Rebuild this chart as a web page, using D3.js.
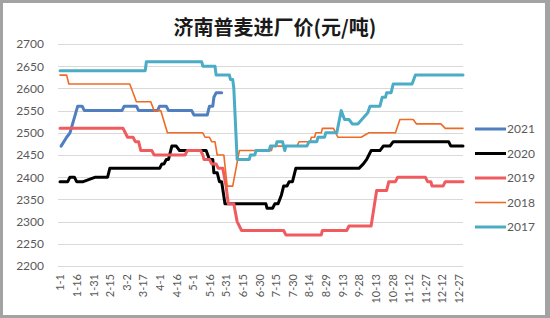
<!DOCTYPE html>
<html>
<head>
<meta charset="utf-8">
<script src="https://cdn.jsdelivr.net/npm/d3@7"></script>
<style>
  body { margin: 0; background: #fff; }
  text { font-family: Lato, "Open Sans", "Noto Sans", sans-serif; }
</style>
</head>
<body>
<svg id="chart" width="550" height="318"></svg>
<script>
// ---------- DATA ----------
const chartTitle = "济南普麦进厂价(元/吨)";
const years = ["2021", "2020", "2019", "2018", "2017"];
const yearColors = ["#4F7FBE", "#000000", "#EF5B5E", "#F06A25", "#4AACC5"];
const yearWidths = [3, 3, 3, 1.6, 3];

const xTickLabels = ["1-1", "1-16", "1-31", "2-15", "3-2", "3-17", "4-1", "4-16", "5-1", "5-16",
  "5-31", "6-15", "6-30", "7-15", "7-30", "8-14", "8-29", "9-13", "9-28", "10-13",
  "10-28", "11-12", "11-27", "12-12", "12-27"];
const yTicks = [2200, 2250, 2300, 2350, 2400, 2450, 2500, 2550, 2600, 2650, 2700];

// breakpoints [month-day, price]
const s2021 = [["1-2",2470],["1-7",2490],["1-10",2500],["1-17",2560],["1-21",2560],["1-23",2550],
  ["2-26",2550],["2-28",2560],["3-11",2560],["3-13",2550],["3-30",2550],["4-1",2560],["4-7",2560],
  ["4-9",2550],["4-30",2550],["5-2",2540],["5-14",2540],["5-16",2560],["5-19",2560],["5-20",2580],
  ["5-22",2590],["5-27",2590]];

const s2020 = [["1-1",2390],["1-8",2390],["1-10",2400],["1-14",2400],["1-16",2390],["1-22",2390],
  ["2-2",2400],["2-13",2400],["2-15",2420],["4-1",2420],["4-3",2430],["4-5",2430],["4-7",2440],
  ["4-9",2440],["4-12",2470],["4-16",2470],["4-19",2460],["5-13",2460],["5-16",2440],["5-19",2440],
  ["5-20",2410],["5-23",2410],["5-25",2390],["5-27",2390],["5-30",2340],["7-6",2340],["7-7",2330],
  ["7-12",2330],["7-14",2340],["7-17",2340],["7-20",2360],["7-22",2380],["7-25",2380],["7-27",2390],
  ["7-30",2390],["8-2",2420],["9-28",2420],["10-2",2430],["10-5",2440],["10-7",2450],["10-9",2460],
  ["10-17",2460],["10-20",2470],["10-26",2470],["10-29",2480],["12-18",2480],["12-20",2470],["12-31",2470]];

const s2019 = [["1-1",2510],["2-27",2510],["3-3",2490],["3-8",2490],["3-10",2480],["3-13",2480],
  ["3-15",2460],["3-25",2460],["3-27",2450],["4-24",2450],["4-26",2460],["5-8",2460],["5-10",2450],
  ["5-11",2440],["5-16",2440],["5-18",2430],["5-22",2430],["5-24",2420],["5-28",2420],["5-31",2380],
  ["6-2",2340],["6-7",2340],["6-10",2300],["6-14",2280],["7-22",2280],["7-24",2270],["8-25",2270],
  ["8-26",2280],["9-17",2280],["9-19",2290],["10-9",2290],["10-14",2370],["10-23",2370],["10-25",2390],
  ["10-31",2390],["11-2",2400],["11-27",2400],["11-29",2390],["12-2",2390],["12-3",2380],["12-13",2380],
  ["12-15",2390],["12-31",2390]];

const s2018 = [["1-1",2630],["1-7",2630],["1-9",2610],["3-5",2610],["3-11",2570],["3-24",2570],
  ["3-27",2550],["4-2",2550],["4-8",2500],["5-10",2500],["5-12",2490],["5-16",2490],["5-18",2480],
  ["5-21",2480],["5-23",2450],["5-29",2450],["6-1",2380],["6-6",2380],["6-12",2460],["7-11",2460],
  ["7-12",2470],["8-3",2470],["8-5",2480],["8-15",2480],["8-16",2490],["8-19",2490],["8-20",2500],
  ["8-25",2500],["8-26",2510],["9-5",2510],["9-9",2490],["9-30",2490],["10-7",2500],["10-31",2500],
  ["11-4",2530],["11-16",2530],["11-19",2520],["12-11",2520],["12-15",2510],["12-31",2510]];

const s2017 = [["1-1",2640],["3-19",2640],["3-20",2660],["5-9",2660],["5-10",2650],["5-21",2650],
  ["5-22",2630],["6-3",2630],["6-4",2620],["6-6",2620],["6-7",2600],["6-10",2440],["6-21",2440],
  ["6-22",2450],["6-26",2450],["6-27",2460],["7-9",2460],["7-10",2470],["7-15",2470],["7-16",2480],
  ["7-21",2480],["7-23",2460],["7-24",2470],["8-12",2470],["8-14",2480],["8-21",2480],["8-22",2490],
  ["8-28",2490],["8-29",2500],["9-8",2500],["9-12",2550],["9-15",2530],["9-19",2530],["9-22",2520],
  ["9-27",2520],["10-6",2545],["10-8",2560],["10-17",2560],["10-19",2580],["10-22",2580],["10-23",2590],
  ["10-27",2590],["10-29",2610],["11-15",2610],["11-18",2630],["12-31",2630]];

const seriesList = [s2021, s2020, s2019, s2018, s2017];

// ---------- HELPERS ----------
const parseMD = d3.timeParse("%Y-%m-%d");
function dayOf(md) {
  // non-leap year so that 2-15 + 15 days = 3-2
  const dt = parseMD("2017-" + md);
  return d3.timeDay.count(d3.timeYear(dt), dt);
}

// ---------- DRAW ----------
const svg = d3.select("#chart");

svg.append("rect").attr("width", 550).attr("height", 318).attr("fill", "#A3A3A3");
svg.append("rect").attr("x", 3).attr("y", 3).attr("width", 542).attr("height", 312).attr("fill", "#fff");

const x = d3.scaleLinear().domain([0, 364]).range([60, 463]);
const y = d3.scaleLinear().domain([2200, 2700]).range([266, 44]);

// gridlines
svg.append("g")
  .selectAll("line")
  .data(yTicks)
  .join("line")
  .attr("x1", 58).attr("x2", 463)
  .attr("y1", d => Math.round(y(d)) + 0.5)
  .attr("y2", d => Math.round(y(d)) + 0.5)
  .attr("stroke", "#D9D9D9")
  .attr("stroke-width", 1);

// y axis labels
const yAxis = d3.axisLeft(y).tickValues(yTicks).tickFormat(d3.format("d")).tickSize(0).tickPadding(0);
svg.append("g")
  .attr("transform", "translate(44,0)")
  .call(yAxis)
  .call(g => g.select(".domain").remove())
  .call(g => g.selectAll("text")
    .attr("fill", "#595959")
    .style("font-size", "12px")
    .style("font-family", "Lato, 'Open Sans', sans-serif"));

// x axis labels (rotated)
const xAxis = d3.axisBottom(x)
  .tickValues(xTickLabels.map(dayOf))
  .tickFormat((d, i) => xTickLabels[i])
  .tickSize(0);
svg.append("g")
  .attr("transform", "translate(0,266)")
  .call(xAxis)
  .call(g => g.select(".domain").remove())
  .call(g => g.selectAll("text")
    .attr("fill", "#595959")
    .style("font-size", "11px")
    .style("font-family", "Lato, 'Open Sans', sans-serif")
    .attr("text-anchor", "end")
    .attr("transform", "rotate(-90)")
    .attr("x", -8)
    .attr("y", 0)
    .attr("dy", "0.35em"));

// lines
const line = d3.line()
  .x(d => x(dayOf(d[0])))
  .y(d => y(d[1]));

svg.append("g")
  .selectAll("path")
  .data(seriesList)
  .join("path")
  .attr("d", line)
  .attr("fill", "none")
  .attr("stroke", (d, i) => yearColors[i])
  .attr("stroke-width", (d, i) => yearWidths[i])
  .attr("stroke-linejoin", "round")
  .attr("stroke-linecap", "round");

// title
svg.append("text")
  .attr("x", 275).attr("y", 35)
  .attr("text-anchor", "middle")
  .style("font-family", "'Noto Sans CJK SC', sans-serif")
  .style("font-size", "20px")
  .style("font-weight", "bold")
  .attr("fill", "#1a1a1a")
  .text(chartTitle);

// legend
const legend = svg.append("g")
  .selectAll("g")
  .data(years)
  .join("g")
  .attr("transform", (d, i) => `translate(475,${129 + i * 24.5})`);
legend.append("line")
  .attr("x1", 0).attr("x2", 31)
  .attr("stroke", (d, i) => yearColors[i])
  .attr("stroke-width", (d, i) => yearWidths[i]);
legend.append("text")
  .attr("x", 32).attr("dy", "0.35em")
  .attr("fill", "#595959")
  .style("font-size", "12px")
  .text(d => d);
</script>
</body>
</html>
